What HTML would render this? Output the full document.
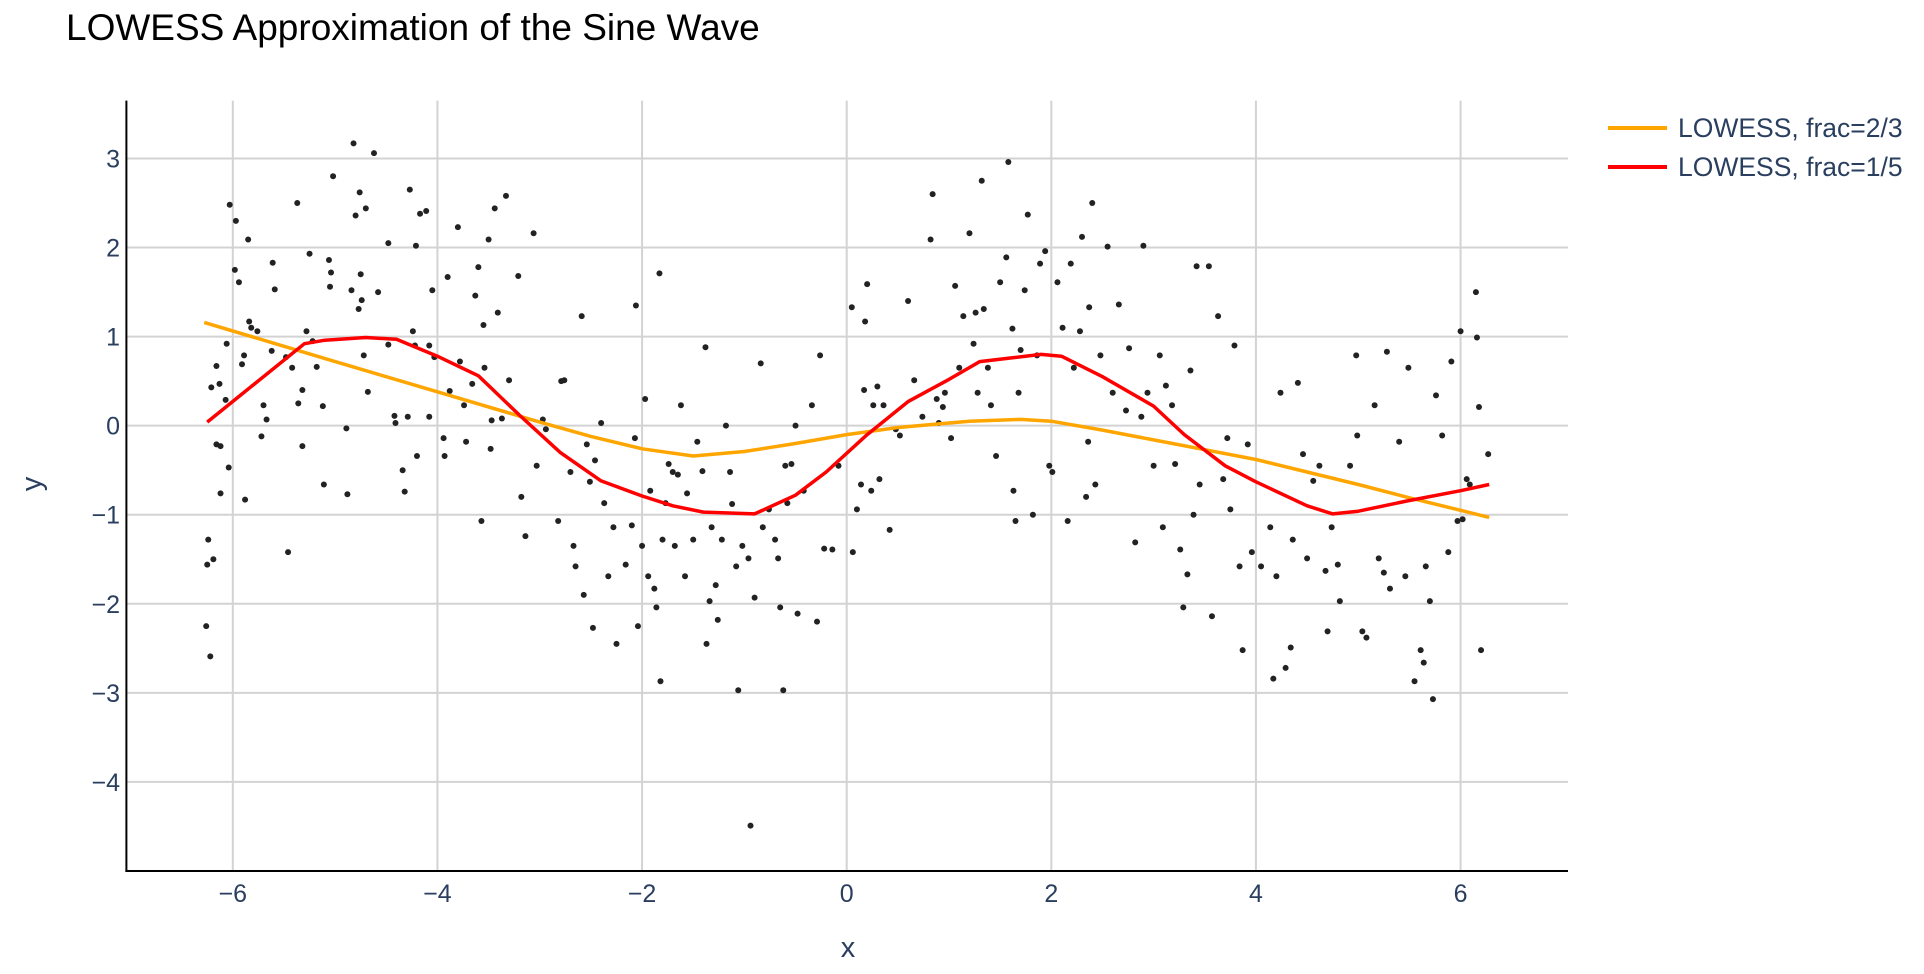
<!DOCTYPE html>
<html><head><meta charset="utf-8"><style>
html,body{margin:0;padding:0;background:#fff;}
svg{display:block;font-family:"Liberation Sans",sans-serif;}
</style></head><body>
<svg id="chart" width="1924" height="974" viewBox="0 0 1924 974">
<text x="66" y="40" font-size="37" fill="#000">LOWESS Approximation of the Sine Wave</text>
<g id="grid"></g>
<g id="points"></g>
<g id="lines"></g>
<g id="axes"></g>
<text x="848" y="957" font-size="29" fill="#2a3f5f" text-anchor="middle">x</text>
<text x="0" y="0" font-size="29" fill="#2a3f5f" text-anchor="middle" transform="translate(41,484) rotate(-90)">y</text>
<g>
<g>
<line x1="1608" y1="128" x2="1667" y2="128" stroke="#ffa500" stroke-width="4"/>
<text x="1678" y="137" font-size="26.5" fill="#2a3f5f">LOWESS, frac=2/3</text></g>
<g>
<line x1="1608" y1="167" x2="1667" y2="167" stroke="#ff0000" stroke-width="4"/>
<text x="1678" y="176" font-size="26.5" fill="#2a3f5f">LOWESS, frac=1/5</text></g>
</g>
</svg>
<script>
const xTicks=[-6,-4,-2,0,2,4,6];
const yTicks=[3,2,1,0,-1,-2,-3,-4];
const scatterX=[-6.24,-6.25,-6.26,-6.22,-6.19,-6.21,-6.16,-6.13,-6.16,-6.12,-6.12,-6.07,-6.06,-6.04,-6.03,-5.97,-5.98,-5.94,-5.91,-5.89,-5.88,-5.85,-5.84,-5.82,-5.76,-5.72,-5.70,-5.67,-5.62,-5.61,-5.59,-5.48,-5.46,-5.42,-5.37,-5.36,-5.32,-5.32,-5.28,-5.25,-5.22,-5.18,-5.12,-5.11,-5.06,-5.05,-5.04,-5.02,-4.89,-4.88,-4.84,-4.82,-4.80,-4.77,-4.76,-4.75,-4.74,-4.72,-4.70,-4.68,-4.62,-4.58,-4.48,-4.48,-4.42,-4.41,-4.34,-4.32,-4.29,-4.27,-4.24,-4.22,-4.21,-4.20,-4.17,-4.11,-4.08,-4.08,-4.05,-4.03,-3.94,-3.93,-3.90,-3.88,-3.80,-3.78,-3.74,-3.72,-3.66,-3.63,-3.60,-3.57,-3.55,-3.54,-3.50,-3.48,-3.47,-3.44,-3.41,-3.37,-3.33,-3.30,-3.21,-3.18,-3.14,-3.06,-3.03,-2.97,-2.94,
-2.82,-2.79,-2.76,-2.70,-2.67,-2.65,-2.59,-2.57,-2.54,-2.51,-2.48,-2.46,-2.40,-2.37,-2.33,-2.28,-2.25,-2.16,-2.10,-2.07,-2.06,-2.04,-2.00,-1.97,-1.94,-1.92,-1.88,-1.86,-1.83,-1.82,-1.80,-1.77,-1.74,-1.70,-1.68,-1.65,-1.62,-1.58,-1.56,-1.50,-1.46,-1.41,-1.38,-1.37,-1.34,-1.32,-1.28,-1.26,-1.22,-1.18,-1.14,-1.12,-1.08,-1.06,-1.02,-0.96,-0.94,-0.90,-0.84,-0.82,-0.76,-0.70,-0.67,-0.65,-0.62,-0.60,-0.58,-0.54,-0.50,-0.48,-0.42,-0.34,-0.29,-0.26,-0.22,-0.14,-0.08,
0.05,0.06,0.10,0.14,0.17,0.18,0.20,0.24,0.26,0.30,0.32,0.36,0.42,0.48,0.52,0.60,0.66,0.74,0.82,0.84,0.88,0.90,0.94,0.96,1.02,1.06,1.10,1.14,1.20,1.24,1.26,1.28,1.32,1.34,1.38,1.41,1.46,1.50,1.56,1.58,1.62,1.63,1.65,1.68,1.70,1.74,1.77,1.82,1.86,1.89,1.94,1.98,2.01,2.06,2.11,2.16,2.19,2.22,2.28,2.30,2.34,2.36,2.37,2.40,2.43,2.48,2.55,2.60,2.66,2.73,2.76,2.82,2.88,2.90,2.94,3.00,3.06,
3.09,3.12,3.18,3.21,3.26,3.29,3.33,3.36,3.39,3.42,3.45,3.54,3.57,3.63,3.68,3.72,3.75,3.79,3.84,3.87,3.92,3.96,4.05,4.14,4.17,4.20,4.24,4.29,4.34,4.36,4.41,4.46,4.50,4.56,4.62,4.68,4.70,4.74,4.80,4.82,4.92,4.98,4.99,5.04,5.08,5.16,5.20,5.25,5.28,5.31,5.40,5.46,5.49,5.55,5.61,5.64,5.66,5.70,5.73,5.76,5.82,5.88,5.91,5.97,6.00,6.02,6.06,6.09,6.15,6.16,6.18,6.20,6.27];
const scatterY=[-1.28,-1.56,-2.25,-2.59,-1.5,0.43,0.67,0.47,-0.21,-0.23,-0.76,0.29,0.92,-0.47,2.48,2.3,1.75,1.61,0.69,0.79,-0.83,2.09,1.17,1.1,1.06,-0.12,0.23,0.07,0.84,1.83,1.53,0.77,-1.42,0.65,2.5,0.25,0.4,-0.23,1.06,1.93,0.95,0.66,0.22,-0.66,1.86,1.56,1.72,2.8,-0.03,-0.77,1.52,3.17,2.36,1.31,2.62,1.7,1.41,0.79,2.44,0.38,3.06,1.5,0.91,2.05,0.11,0.03,-0.5,-0.74,0.1,2.65,1.06,0.9,2.02,-0.34,2.38,2.41,0.1,0.9,1.52,0.77,-0.14,-0.34,1.67,0.39,2.23,0.72,0.23,-0.18,0.47,1.46,1.78,-1.07,1.13,0.65,2.09,-0.26,0.06,2.44,1.27,0.08,2.58,0.51,1.68,-0.8,-1.24,2.16,-0.45,0.07,-0.04,
-1.07,0.5,0.51,-0.52,-1.35,-1.58,1.23,-1.9,-0.21,-0.63,-2.27,-0.39,0.03,-0.87,-1.69,-1.14,-2.45,-1.56,-1.12,-0.14,1.35,-2.25,-1.35,0.3,-1.69,-0.73,-1.83,-2.04,1.71,-2.87,-1.28,-0.87,-0.43,-0.52,-1.35,-0.55,0.23,-1.69,-0.76,-1.28,-0.18,-0.51,0.88,-2.45,-1.97,-1.14,-1.79,-2.18,-1.28,0.0,-0.52,-0.88,-1.58,-2.97,-1.35,-1.49,-4.49,-1.93,0.7,-1.14,-0.94,-1.28,-1.49,-2.04,-2.97,-0.45,-0.87,-0.43,0,-2.11,-0.73,0.23,-2.2,0.79,-1.38,-1.39,-0.45,
1.33,-1.42,-0.94,-0.66,0.4,1.17,1.59,-0.73,0.23,0.44,-0.6,0.23,-1.17,-0.04,-0.11,1.4,0.51,0.1,2.09,2.6,0.3,0.03,0.21,0.37,-0.14,1.57,0.65,1.23,2.16,0.92,1.27,0.37,2.75,1.31,0.65,0.23,-0.34,1.61,1.89,2.96,1.09,-0.73,-1.07,0.37,0.85,1.52,2.37,-1.0,0.79,1.82,1.96,-0.45,-0.52,1.61,1.1,-1.07,1.82,0.65,1.06,2.12,-0.8,-0.18,1.33,2.5,-0.66,0.79,2.01,0.37,1.36,0.17,0.87,-1.31,0.1,2.02,0.37,-0.45,0.79,
-1.14,0.45,0.23,-0.43,-1.39,-2.04,-1.67,0.62,-1.0,1.79,-0.66,1.79,-2.14,1.23,-0.6,-0.14,-0.94,0.9,-1.58,-2.52,-0.21,-1.42,-1.58,-1.14,-2.84,-1.69,0.37,-2.72,-2.49,-1.28,0.48,-0.32,-1.49,-0.62,-0.45,-1.63,-2.31,-1.14,-1.56,-1.97,-0.45,0.79,-0.11,-2.31,-2.38,0.23,-1.49,-1.65,0.83,-1.83,-0.18,-1.69,0.65,-2.87,-2.52,-2.66,-1.58,-1.97,-3.07,0.34,-0.11,-1.42,0.72,-1.07,1.06,-1.05,-0.6,-0.66,1.5,0.99,0.21,-2.52,-0.32];
const fracTwoThirdsX=[-6.28,-5,-4,-3,-2.5,-2,-1.5,-1,-0.5,0,0.5,1,1.2,1.7,2,2.5,3,3.5,4,4.5,5,5.5,6,6.28];
const fracTwoThirdsY=[1.16,0.72,0.38,0.04,-0.12,-0.26,-0.34,-0.29,-0.2,-0.1,-0.02,0.03,0.05,0.07,0.05,-0.05,-0.16,-0.27,-0.38,-0.52,-0.66,-0.81,-0.95,-1.03];
const fracOneFifthX=[-6.25,-5.3,-5.1,-4.7,-4.4,-4.0,-3.6,-3.2,-2.8,-2.4,-2,-1.7,-1.4,-0.9,-0.5,-0.2,0.2,0.6,1.0,1.3,1.6,1.9,2.1,2.5,3,3.3,3.7,4,4.5,4.75,5,5.5,6,6.28];
const fracOneFifthY=[0.04,0.92,0.96,0.99,0.97,0.78,0.56,0.12,-0.3,-0.62,-0.79,-0.9,-0.97,-0.99,-0.78,-0.52,-0.1,0.27,0.52,0.72,0.76,0.80,0.78,0.55,0.22,-0.1,-0.45,-0.63,-0.9,-0.99,-0.96,-0.84,-0.73,-0.66];

const L=126.4,R=1568,T=100.6,B=871;
const X0=-7.04,X1=7.05,Y0=-5.0,Y1=3.65;
const sx=v=>L+(v-X0)/(X1-X0)*(R-L);
const sy=v=>B-(v-Y0)/(Y1-Y0)*(B-T);
const NS='http://www.w3.org/2000/svg';
function mk(tag,attrs,parent){const e=document.createElementNS(NS,tag);for(const k in attrs)e.setAttribute(k,attrs[k]);parent.appendChild(e);return e;}
const grid=document.getElementById('grid'),axes=document.getElementById('axes');
xTicks.forEach(t=>{
  const g=mk('line',{x1:sx(t),x2:sx(t),y1:T,y2:B,stroke:'#d3d3d3','stroke-width':2},grid);
  
  
  const tx=mk('text',{x:sx(t),y:902,'font-size':25,fill:'#2a3f5f','text-anchor':'middle'},axes);
  tx.textContent=(t<0?'\u2212'+(-t):String(t));
  
  
});
yTicks.forEach(t=>{
  const g=mk('line',{x1:L,x2:R,y1:sy(t),y2:sy(t),stroke:'#d3d3d3','stroke-width':2},grid);
  
  
  const tx=mk('text',{x:120,y:sy(t)+9,'font-size':25,fill:'#2a3f5f','text-anchor':'end'},axes);
  tx.textContent=(t<0?'\u2212'+(-t):String(t));
  
  
});
const xa=mk('line',{x1:L-1,x2:R,y1:B,y2:B,stroke:'#000','stroke-width':2},axes);


const ya=mk('line',{x1:L,x2:L,y1:T,y2:B+1,stroke:'#000','stroke-width':2},axes);


const pts=document.getElementById('points');
scatterX.forEach((x,i)=>{
  const c=mk('circle',{cx:sx(x),cy:sy(scatterY[i]),r:3,fill:'#222'},pts);
  
  
});
const lines=document.getElementById('lines');
function path(xs,ys,color,name){
  const d=xs.map((x,i)=>(i?'L':'M')+sx(x).toFixed(1)+','+sy(ys[i]).toFixed(1)).join('');
  const p=mk('path',{d:d,fill:'none',stroke:color,'stroke-width':3.5,'stroke-linejoin':'round'},lines);
  
  
}
path(fracTwoThirdsX,fracTwoThirdsY,'#ffa500','lowess-frac-2-3-line');
path(fracOneFifthX,fracOneFifthY,'#ff0000','lowess-frac-1-5-line');
</script>
</body></html>
